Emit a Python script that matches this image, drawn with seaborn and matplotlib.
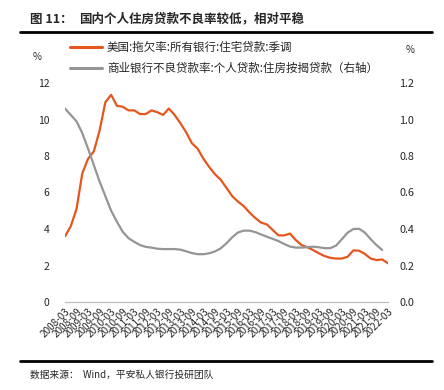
import pandas as pd
import seaborn as sns
import matplotlib.pyplot as plt
from matplotlib.lines import Line2D

# quarterly data, 2008-03 .. 2022-03
quarters = pd.period_range("2008Q1", "2022Q1", freq="Q")

# 美国:拖欠率:所有银行:住宅贷款:季调 (%)
us_delinq = [3.6, 4.15, 5.1, 7.05, 7.85, 8.25, 9.4, 10.95, 11.35, 10.75, 10.7, 10.5,
             10.5, 10.3, 10.3, 10.5, 10.4, 10.25, 10.6, 10.25, 9.8, 9.3, 8.7, 8.4,
             7.85, 7.4, 7.0, 6.7, 6.25, 5.8, 5.5, 5.25, 4.9, 4.6, 4.35, 4.25,
             3.95, 3.65, 3.65, 3.75, 3.4, 3.12, 3.0, 2.85, 2.67, 2.52, 2.42, 2.38,
             2.38, 2.48, 2.83, 2.81, 2.63, 2.38, 2.3, 2.33, 2.12]

# 商业银行不良贷款率:个人贷款:住房按揭贷款 (%, right axis)
cn_npl = [1.06, 1.025, 0.99, 0.925, 0.84, 0.75, 0.66, 0.58, 0.50, 0.44, 0.385, 0.35,
          0.33, 0.312, 0.302, 0.298, 0.292, 0.29, 0.29, 0.29, 0.287, 0.278, 0.268, 0.262,
          0.262, 0.267, 0.277, 0.294, 0.322, 0.355, 0.381, 0.391, 0.391, 0.383, 0.370, 0.358,
          0.346, 0.334, 0.318, 0.304, 0.298, 0.298, 0.30, 0.303, 0.30, 0.295, 0.295, 0.309,
          0.344, 0.38, 0.40, 0.401, 0.38, 0.344, 0.312, 0.285]

tick_labels = [f"{y}-{m}" for y in range(2008, 2023) for m in ("03", "09")][:-1]

us_label = "美国:拖欠率:所有银行:住宅贷款:季调"
cn_label = "商业银行不良贷款率:个人贷款:住房按揭贷款（右轴）"

orange = "#E5561E"
grey = "#959595"

df_us = pd.DataFrame({"idx": range(len(us_delinq)), "value": us_delinq})
df_cn = pd.DataFrame({"idx": range(len(cn_npl)), "value": cn_npl})

sns.set_style("white")
plt.rcParams["font.family"] = ["Noto Sans CJK SC", "DejaVu Sans"]

fig = plt.figure(figsize=(4.44, 3.9), dpi=100)
ax = fig.add_axes([65 / 444, 1 - 302 / 390, 323 / 444, 219 / 390])
ax2 = ax.twinx()

sns.lineplot(data=df_us, x="idx", y="value", ax=ax, color=orange, linewidth=1.6)
sns.lineplot(data=df_cn, x="idx", y="value", ax=ax2, color=grey, linewidth=1.6)

ax.set_xlim(0, len(quarters) - 1)
ax.set_ylim(0, 12)
ax2.set_ylim(0, 1.2)
ax.set_yticks(range(0, 13, 2))
ax2.set_yticks([i * 0.2 for i in range(7)])
ax2.set_yticklabels([f"{i * 0.2:.1f}" for i in range(7)])

ax.set_xticks(range(0, len(quarters), 2))
ax.set_xticklabels(tick_labels, rotation=45, ha="right", rotation_mode="anchor", fontsize=7.2)
ax.tick_params(axis="x", direction="in", length=3, color="#BBBBBB", pad=3)
ax.tick_params(axis="y", length=0, pad=11, labelsize=7.5)
ax2.tick_params(axis="y", length=0, pad=8, labelsize=7.8)

for a in (ax, ax2):
    a.set_xlabel("")
    a.set_ylabel("")
    for s in ("left", "right", "top"):
        a.spines[s].set_visible(False)
    a.spines["bottom"].set_color("#BBBBBB")
    a.spines["bottom"].set_linewidth(0.8)

# legend
handles = [Line2D([], [], color=orange, linewidth=2.2), Line2D([], [], color=grey, linewidth=2.2)]
fig.legend(handles, [us_label, cn_label], loc="upper left", bbox_to_anchor=(70 / 444, 1 - 41 / 390),
           frameon=False, fontsize=8.3, handlelength=2.8, handletextpad=0.4,
           borderpad=0, borderaxespad=0, labelspacing=0.7)

fig.text(37 / 444, 1 - 57 / 390, "%", fontsize=7, ha="center", va="center")
fig.text(410 / 444, 1 - 50 / 390, "%", fontsize=7, ha="center", va="center")

# title, rules and source
fig.text(30 / 444, 1 - 19 / 390, "图 11：", fontsize=9, fontweight="bold", va="center")
fig.text(79 / 444, 1 - 19 / 390, "国内个人住房贷款不良率较低，相对平稳", fontsize=9, fontweight="bold", va="center")
fig.add_artist(Line2D([20 / 444, 432 / 444], [1 - 32 / 390, 1 - 32 / 390], color="black", linewidth=2))
fig.add_artist(Line2D([20 / 444, 432 / 444], [1 - 361 / 390, 1 - 361 / 390], color="black", linewidth=2))
fig.text(30 / 444, 1 - 375 / 390, "数据来源：  Wind，平安私人银行投研团队", fontsize=7, va="center")

fig.savefig("out.png", dpi=100)
